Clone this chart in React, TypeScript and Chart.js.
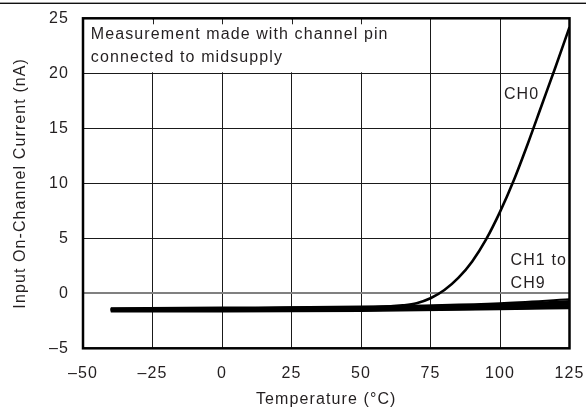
import React, { useEffect, useRef } from "react";
import { Chart, registerables } from "chart.js";

Chart.register(...registerables);

// ---- Data ----
const X_TICKS = [-50, -25, 0, 25, 50, 75, 100, 125];
const Y_TICKS = [-5, 0, 5, 10, 15, 20, 25];

const CH0_TEMPS = [-40, -25, 0, 25, 50, 60, 65, 70, 75, 80, 85, 90, 95, 100, 105, 110, 115, 120, 125];
const CH0_VALUES = [-1.45, -1.45, -1.4, -1.35, -1.3, -1.2, -1.1, -0.9, -0.45, 0.3, 1.4, 2.9, 4.9, 7.4, 10.3, 13.6, 17.1, 20.6, 24.2];

const BUNDLE_TEMPS = [-40, 0, 50, 100, 125];
const CH1 = [-1.35, -1.3, -1.2, -0.9, -0.55];
const CH2 = [-1.4, -1.35, -1.25, -1.0, -0.7];
const CH3 = [-1.45, -1.4, -1.3, -1.05, -0.8];
const CH4 = [-1.45, -1.45, -1.35, -1.1, -0.9];
const CH5 = [-1.5, -1.45, -1.4, -1.15, -0.95];
const CH6 = [-1.5, -1.5, -1.45, -1.2, -1.05];
const CH7 = [-1.55, -1.55, -1.5, -1.3, -1.15];
const CH8 = [-1.6, -1.6, -1.55, -1.4, -1.25];
const CH9 = [-1.65, -1.65, -1.6, -1.45, -1.35];
const BUNDLE = [CH1, CH2, CH3, CH4, CH5, CH6, CH7, CH8, CH9];

const NOTE_LINES = ["Measurement made with channel pin", "connected to midsupply"];
const X_TITLE = "Temperature (°C)";
const Y_TITLE = "Input On-Channel Current (nA)";

const FONT = '"Liberation Sans", Arial, Helvetica, sans-serif';
const FS = 16;
const SPACING = "1.1px";
const TEXT = "#231f20";

const fmt = (v: number) => String(v).replace("-", "\u2013");

const overlay = {
  id: "overlay",
  beforeInit(chart: any) {
    chart.ctx.letterSpacing = SPACING;
  },
  beforeDraw(chart: any) {
    const ctx = chart.ctx;
    ctx.letterSpacing = SPACING;
    ctx.save();
    ctx.fillStyle = "#fff";
    ctx.fillRect(0, 0, chart.width, chart.height);
    ctx.fillStyle = "#111";
    ctx.fillRect(0, 2.6, chart.width, 1.4);
    ctx.restore();
  },
  beforeDatasetsDraw(chart: any) {
    const ctx = chart.ctx;
    const xs = chart.scales.x;
    const ys = chart.scales.y;
    const { left, top } = chart.chartArea;
    const bx = xs.getPixelForValue(75);
    const by = ys.getPixelForValue(20);
    ctx.save();
    ctx.fillStyle = "#fff";
    ctx.fillRect(left + 1, top + 1, bx - left - 2, by - top - 2);
    ctx.strokeStyle = "#222";
    ctx.lineWidth = 1;
    [-25, 0, 25, 50].forEach((v) => {
      const px = Math.round(xs.getPixelForValue(v)) + 0.5;
      ctx.beginPath();
      ctx.moveTo(px, top);
      ctx.lineTo(px, top + 6);
      ctx.stroke();
    });
    ctx.letterSpacing = SPACING;
    ctx.fillStyle = TEXT;
    ctx.font = `${FS}px ${FONT}`;
    ctx.textAlign = "left";
    ctx.textBaseline = "alphabetic";
    ctx.fillText(NOTE_LINES[0], xs.getPixelForValue(-47.2), ys.getPixelForValue(23.12));
    ctx.fillText(NOTE_LINES[1], xs.getPixelForValue(-47.2), ys.getPixelForValue(21.05));
    ctx.fillText("CH0", xs.getPixelForValue(101.4), ys.getPixelForValue(17.7));
    ctx.fillText("CH1 to", xs.getPixelForValue(103.8), ys.getPixelForValue(2.57));
    ctx.fillText("CH9", xs.getPixelForValue(103.8), ys.getPixelForValue(0.5));
    ctx.restore();
  },
  afterDatasetsDraw(chart: any) {
    const ctx = chart.ctx;
    const { left, top, right, bottom } = chart.chartArea;
    ctx.save();
    ctx.strokeStyle = "#000";
    ctx.lineWidth = 2.5;
    ctx.strokeRect(left, top, right - left, bottom - top);
    ctx.restore();
  },
};

export default function App() {
  const ref = useRef<HTMLCanvasElement>(null);

  useEffect(() => {
    if (!ref.current) return;
    const datasets: any[] = BUNDLE.map((vals, i) => ({
      label: `CH${i + 1}`,
      data: BUNDLE_TEMPS.map((t, j) => ({ x: t, y: vals[j] })),
      borderColor: "#000",
      borderWidth: 2,
      pointRadius: 0,
      cubicInterpolationMode: "monotone",
      fill: false,
    }));
    datasets.push({
      label: "CH0",
      data: CH0_TEMPS.map((t, j) => ({ x: t, y: CH0_VALUES[j] })),
      borderColor: "#000",
      borderWidth: 2.6,
      pointRadius: 0,
      cubicInterpolationMode: "monotone",
      fill: false,
    });

    const chart = new Chart(ref.current, {
      type: "line",
      data: { datasets },
      plugins: [overlay],
      options: {
        animation: false,
        responsive: false,
        devicePixelRatio: 1,
        layout: { padding: { top: 18.3, right: 16.5, bottom: 0, left: 0 } },
        plugins: { legend: { display: false }, tooltip: { enabled: false } },
        scales: {
          x: {
            type: "linear",
            min: -50,
            max: 125,
            afterFit: (s: any) => {
              s.height = 62.7;
              s.paddingLeft = 0;
              s.paddingRight = 0;
              s.paddingTop = 0;
              s.paddingBottom = 0;
            },
            afterBuildTicks: (s: any) => {
              s.ticks = X_TICKS.map((v) => ({ value: v }));
            },
            border: { display: false },
            grid: { color: "#1a1a1a", lineWidth: 1, drawTicks: false },
            ticks: {
              padding: 15.4,
              color: TEXT,
              font: { family: FONT, size: FS },
              maxRotation: 0,
              callback: (v: any) => fmt(v),
            },
            title: {
              display: true,
              text: X_TITLE,
              color: TEXT,
              font: { family: FONT, size: FS },
              padding: { top: 0, bottom: 1.4 },
            },
          },
          y: {
            type: "linear",
            min: -5,
            max: 25,
            afterFit: (s: any) => {
              s.width = 83;
              s.paddingLeft = 0;
              s.paddingRight = 0;
              s.paddingTop = 0;
              s.paddingBottom = 0;
            },
            afterBuildTicks: (s: any) => {
              s.ticks = Y_TICKS.map((v) => ({ value: v }));
            },
            border: { display: false },
            grid: {
              drawTicks: false,
              color: (c: any) => (c.tick && c.tick.value === 0 ? "#808080" : "#1a1a1a"),
              lineWidth: (c: any) => (c.tick && c.tick.value === 0 ? 2 : 1),
            },
            ticks: {
              padding: 14,
              color: TEXT,
              font: { family: FONT, size: FS },
              callback: (v: any) => fmt(v),
            },
            title: {
              display: true,
              text: Y_TITLE,
              color: TEXT,
              font: { family: FONT, size: FS },
              padding: { top: 10.5, bottom: 0 },
            },
          },
        },
      },
    });
    return () => chart.destroy();
  }, []);

  return (
    <div style={{ position: "fixed", left: 0, top: 0, width: 586, height: 411, background: "#fff" }}>
      <canvas ref={ref} width={586} height={411} style={{ display: "block" }} />
    </div>
  );
}
